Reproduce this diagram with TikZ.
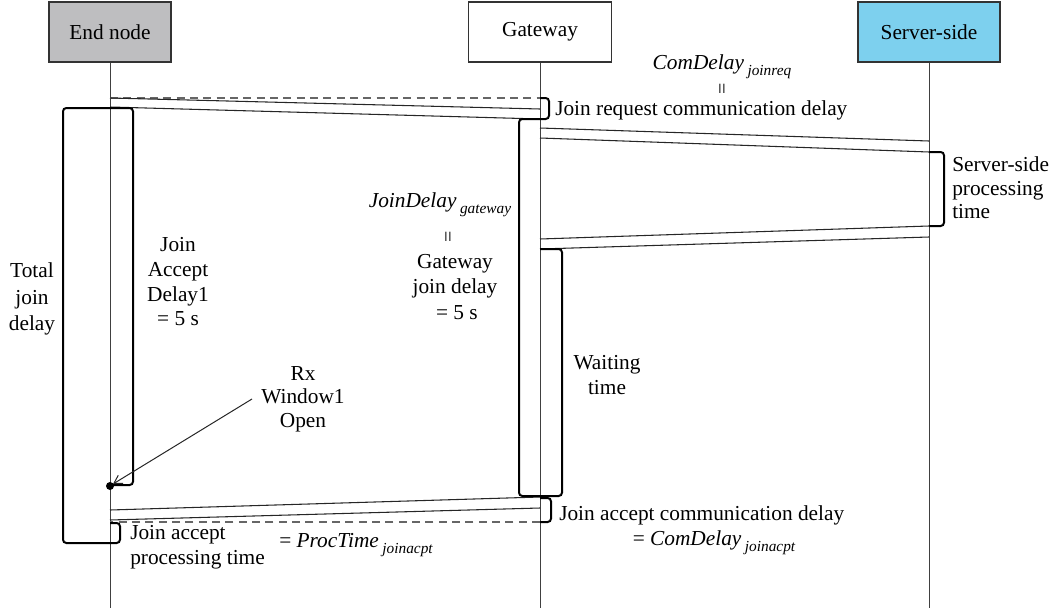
\documentclass[tikz,border=0pt]{standalone}
\usepackage{fontspec}
\setmainfont{Liberation Serif}
\usetikzlibrary{arrows.meta}
\definecolor{endgray}{RGB}{190,190,192}
\definecolor{srvblue}{RGB}{125,208,238}
\newcommand\subs[1]{\raisebox{-0.6ex}{\fontsize{11.5}{13}\selectfont\itshape #1}}
\tikzset{
  hdr/.style={draw=black!80, line width=1.1pt, minimum height=45pt, inner sep=0pt, font=\fontsize{16}{18}\selectfont},
  life/.style={draw=black!75, line width=0.75pt},
  msg/.style={draw=black!85, line width=0.8pt},
  dashmsg/.style={draw=black!60, line width=0.8pt, dash pattern=on 6pt off 4pt},
  bar/.style={draw=black, line width=1.5pt, rounded corners=2.5pt},
  txt/.style={font=\fontsize{16}{18.5}\selectfont, inner sep=0pt, align=center},
  eqv/.style={rotate=90, inner sep=0pt, font=\fontsize{15}{15}\selectfont},
  pointer/.style={draw=black!85, line width=0.75pt, -{Straight Barb[length=6pt,width=7pt]}}
}
\begin{document}
\begin{tikzpicture}[x=0.75pt,y=-0.75pt]
\useasboundingbox (0,0) rectangle (1053,614);
% headers
\node[hdr, fill=endgray, minimum width=91.5pt] (en) at (110,32) {End node};
\node[hdr, fill=white, minimum width=107.25pt] (gw) at (540,32) {Gateway};
\node[hdr, fill=srvblue, minimum width=106.5pt] (sv) at (929,32) {Server-side};
% lifelines
\coordinate (enb) at (110,608);
\coordinate (gwb) at (540,608);
\coordinate (svb) at (929,608);
\draw[life] (en.south) -- (enb);
\draw[life] (gw.south) -- (gwb);
\draw[life] (sv.south) -- (svb);
% message end points
\coordinate (e1) at (110,98);  \coordinate (g1) at (540,109);
\coordinate (e2) at (110,107); \coordinate (g2) at (540,119);
\coordinate (g0) at (540,98);
\coordinate (g3) at (540,128); \coordinate (s3) at (929,141);
\coordinate (g4) at (540,138); \coordinate (s4) at (929,152);
\coordinate (s5) at (929,226); \coordinate (g5) at (540,239);
\coordinate (s6) at (929,237); \coordinate (g6) at (540,249);
\coordinate (g7) at (540,497); \coordinate (e7) at (110,510);
\coordinate (g8) at (540,508); \coordinate (e8) at (110,520);
\coordinate (g9) at (540,522); \coordinate (e9) at (110,522);
% join request
\draw[dashmsg] (e1) -- (g0);
\draw[msg] (e1) -- (g1);
\draw[msg] (e2) -- (g2);
% gateway <-> server
\draw[msg] (g3) -- (s3);
\draw[msg] (g4) -- (s4);
\draw[msg] (s5) -- (g5);
\draw[msg] (s6) -- (g6);
% join accept
\draw[msg] (g7) -- (e7);
\draw[msg] (g8) -- (e8);
\draw[dashmsg] (g9) -- (e9);
% activation bars and brackets
\draw[bar] (540,119) -- (519,119) -- (519,496) -- (540,496);
\draw[bar] (540,249) -- (562,249) -- (562,496) -- (540,496);
\draw[bar] (110,108) -- (133,108) -- (133,485) -- (110,485);
\draw[bar] (110,108) -- (63,108) -- (63,543) -- (110,543);
\draw[bar] (110,523) -- (120,523) -- (120,543) -- (110,543);
\draw[bar] (540,98) -- (549,98) -- (549,119) -- (540,119);
\draw[bar] (929,152) -- (944,152) -- (944,226) -- (929,226);
\draw[bar] (540,498) -- (551,498) -- (551,522) -- (540,522);
% Rx window
\coordinate (rxdot) at (110,486);
\coordinate (rxtip) at (113,484);
\coordinate (rxs) at (252,399);
\fill[black] (rxdot) circle[radius=3pt];
% texts
\node[txt] (cdreq) at (722,67) {\textit{ComDelay}\,\subs{joinreq}};
\node[eqv] (eq1) at (724,89) {=};
\node[txt, anchor=west] (jrcd) at (555,110) {Join request communication delay};
\node[txt, align=left, anchor=west, font=\fontsize{16}{17.5}\selectfont] (spt) at (952,188) {Server-side\\processing\\time};
\node[txt] (jdg) at (440,205) {\textit{JoinDelay}\,\subs{gateway}};
\node[eqv] (eq2) at (450,237) {=};
\node[txt, font=\fontsize{16}{19}\selectfont] (gjd) at (455,287) {Gateway\\join delay\\$\,$= 5 s};
\node[txt, font=\fontsize{16}{20}\selectfont] (tjd) at (32,299) {Total\\join\\delay};
\node[txt] (jad) at (178,282) {Join\\Accept\\Delay1\\= 5 s};
\node[txt] (wt) at (607,375) {Waiting\\time};
\node[txt, font=\fontsize{16}{17.5}\selectfont] (rx) at (303,399) {Rx\\Window1\\Open};
\node[txt, anchor=west] (jacd) at (559,515) {Join accept communication delay};
\node[txt] (cdacpt) at (714,543) {= \textit{ComDelay}\,\subs{joinacpt}};
\node[txt, align=left, anchor=west] (japt) at (130,547) {Join accept\\processing time};
\node[txt] (ptacpt) at (356,545) {= \textit{ProcTime}\,\subs{joinacpt}};
% pointer
\draw[pointer] (rxs) -- (rxtip);
\end{tikzpicture}
\end{document}
